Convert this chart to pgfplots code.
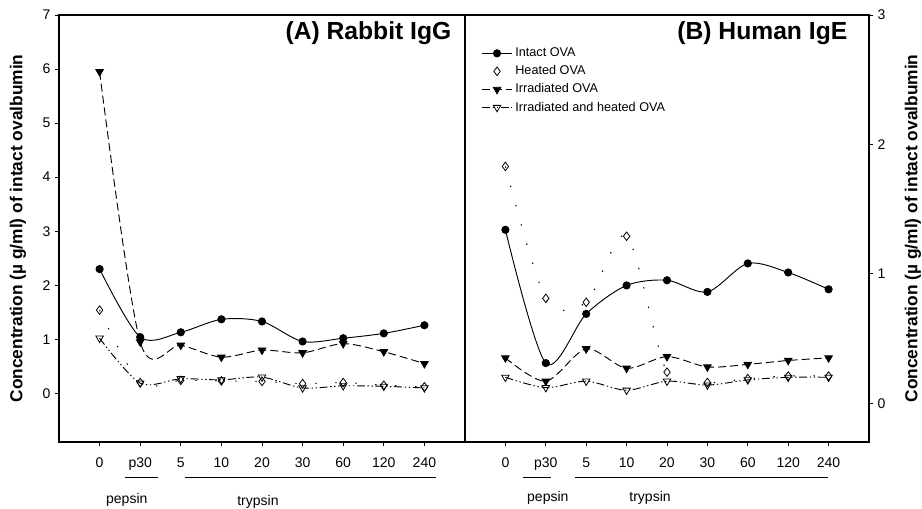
\documentclass[border=0pt]{standalone}
\usepackage{fontspec}
\setmainfont{Liberation Sans}
\usepackage{pgfplots}
\pgfplotsset{compat=1.18}
\begin{document}
\begin{tikzpicture}[x=0.75pt,y=0.75pt]
\useasboundingbox (0,0) rectangle (922,508);
\pgfplotsset{
  panel/.style={
    scale only axis, height=320.25pt,
    xmin=-1, xmax=9,
    xtick={0,...,8}, xticklabels={0,p30,5,10,20,30,60,120,240},
    xtick pos=bottom, tick align=outside, major tick length=3pt,
    tick style={black, line width=0.6pt},
    axis line style={line width=1pt},
    xticklabel style={yshift=-5pt},
    ticklabel style={font=\fontsize{10.5}{12}\selectfont},
    /pgf/number format/assume math mode=true,
    clip=false,
  },
  longline legend/.style={legend image code/.code={\draw[mark repeat=2, mark phase=2, ##1] plot coordinates {(0cm,0cm) (0.4cm,0cm) (0.8cm,0cm)};}},
  centermark legend/.style={legend image code/.code={\draw[##1] plot coordinates {(0.4cm,0cm)};}},
  intact/.style={black, line width=0.7pt, smooth, mark=*, mark size=2.7pt, mark options={solid, fill=black}},
  heatedline/.style={black, line width=0.8pt, smooth, dash pattern=on 1pt off 14pt, no marks},
  heated/.style={black, only marks, mark=diamond, mark size=3.2pt, mark options={solid, fill=white, line width=0.6pt}, centermark legend},
  irr/.style={black, line width=0.7pt, smooth, dash pattern=on 6pt off 3pt, mark=triangle*, mark size=3.2pt, mark options={solid, rotate=180, fill=black}},
  irrheat/.style={black, line width=0.7pt, smooth, dash pattern=on 6pt off 2pt on 1pt off 2pt on 1pt off 2pt, mark=triangle, mark size=3.2pt, mark options={solid, rotate=180, fill=white, line width=0.6pt}},
}
% ---------------- Panel A ----------------
\begin{axis}[panel, at={(44.25pt,49.5pt)}, anchor=south west, width=304.5pt,
  ymin=-0.9, ymax=7, ytick={0,...,7}, ytick pos=left]
\addplot[intact] coordinates {(0,2.3) (1,1.04) (2,1.13) (3,1.37) (4,1.33) (5,0.96) (6,1.02) (7,1.11) (8,1.26)};
\addplot[heatedline] coordinates {(0,1.54) (1,0.2) (2,0.24) (3,0.23) (4,0.22) (5,0.18) (6,0.2) (7,0.15) (8,0.12)};
\addplot[heated] coordinates {(0,1.54) (1,0.2) (2,0.24) (3,0.23) (4,0.22) (5,0.18) (6,0.2) (7,0.15) (8,0.12)};
\addplot[irr] coordinates {(0,5.95) (1,0.95) (2,0.89) (3,0.67) (4,0.8) (5,0.75) (6,0.92) (7,0.77) (8,0.55)};
\addplot[irrheat] coordinates {(0,1.02) (1,0.19) (2,0.27) (3,0.25) (4,0.3) (5,0.1) (6,0.14) (7,0.13) (8,0.1)};
\node[anchor=east, font=\fontsize{18.5}{20}\bfseries] at (rel axis cs:0.978,0.958) {(A) Rabbit IgG};
\node[rotate=90, font=\fontsize{13}{15}\bfseries] at (rel axis cs:-0.101,0.5) {Concentration (µ g/ml) of intact ovalbumin};
\draw[line width=0.6pt] (rel axis cs:0.163,-0.084) -- (rel axis cs:0.244,-0.084);
\draw[line width=0.6pt] (rel axis cs:0.31,-0.084) -- (rel axis cs:0.929,-0.084);
\node[font=\fontsize{10.5}{12}\selectfont] at (rel axis cs:0.167,-0.136) {pepsin};
\node[font=\fontsize{10.5}{12}\selectfont] at (rel axis cs:0.49,-0.14) {trypsin};
\end{axis}
% ---------------- Panel B ----------------
\begin{axis}[panel, at={(348.75pt,49.5pt)}, anchor=south west, width=303pt,
  ymin=-0.3, ymax=3, ytick={0,1,2,3}, ytick pos=right, yticklabel pos=right,
  longline legend,
  legend style={draw=none, fill=none, at={(0.03,0.936)}, anchor=north west,
    font=\fontsize{9.5}{11}\selectfont, row sep=1.2pt},
  legend cell align=left]
\addplot[intact] coordinates {(0,1.34) (1,0.31) (2,0.69) (3,0.91) (4,0.95) (5,0.86) (6,1.08) (7,1.01) (8,0.88)};
\addlegendentry{Intact OVA}
\addplot[heatedline, forget plot] coordinates {(0,1.83) (1,0.81) (2,0.78) (3,1.29) (4,0.24) (5,0.16) (6,0.19) (7,0.21) (8,0.21)};
\addplot[heated] coordinates {(0,1.83) (1,0.81) (2,0.78) (3,1.29) (4,0.24) (5,0.16) (6,0.19) (7,0.21) (8,0.21)};
\addlegendentry{Heated OVA}
\addplot[irr] coordinates {(0,0.35) (1,0.17) (2,0.42) (3,0.27) (4,0.36) (5,0.28) (6,0.3) (7,0.33) (8,0.35)};
\addlegendentry{Irradiated OVA}
\addplot[irrheat] coordinates {(0,0.2) (1,0.12) (2,0.17) (3,0.1) (4,0.17) (5,0.14) (6,0.18) (7,0.2) (8,0.2)};
\addlegendentry{Irradiated and heated OVA}
\node[anchor=east, font=\fontsize{18.5}{20}\bfseries] at (rel axis cs:0.958,0.958) {(B) Human IgE};
\node[rotate=90, font=\fontsize{13}{15}\bfseries] at (rel axis cs:1.109,0.5) {Concentration (µ g/ml) of intact ovalbumin};
\draw[line width=0.6pt] (rel axis cs:0.144,-0.084) -- (rel axis cs:0.213,-0.084);
\draw[line width=0.6pt] (rel axis cs:0.272,-0.084) -- (rel axis cs:0.899,-0.084);
\node[font=\fontsize{10.5}{12}\selectfont] at (rel axis cs:0.205,-0.131) {pepsin};
\node[font=\fontsize{10.5}{12}\selectfont] at (rel axis cs:0.458,-0.131) {trypsin};
\end{axis}
\end{tikzpicture}
\end{document}
